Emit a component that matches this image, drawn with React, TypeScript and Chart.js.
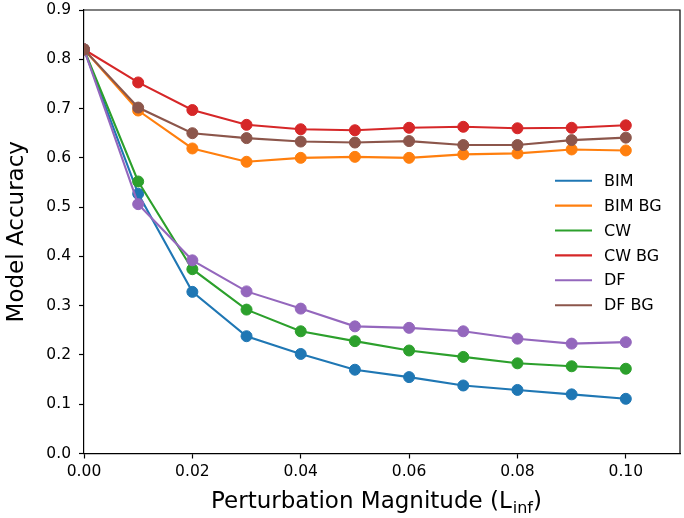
import React, { useEffect, useRef } from "react";
import { Chart, registerables } from "chart.js";

Chart.register(...registerables);

const xValues = [0, 0.01, 0.02, 0.03, 0.04, 0.05, 0.06, 0.07, 0.08, 0.09, 0.1];
const bim = [0.82, 0.527, 0.328, 0.238, 0.202, 0.17, 0.155, 0.138, 0.129, 0.12, 0.111];
const bimBg = [0.82, 0.696, 0.619, 0.592, 0.6, 0.602, 0.6, 0.607, 0.609, 0.617, 0.615];
const cw = [0.82, 0.552, 0.374, 0.292, 0.248, 0.228, 0.209, 0.196, 0.183, 0.177, 0.172];
const cwBg = [0.82, 0.753, 0.697, 0.667, 0.658, 0.656, 0.661, 0.663, 0.66, 0.661, 0.666];
const df = [0.82, 0.506, 0.392, 0.329, 0.294, 0.258, 0.255, 0.248, 0.233, 0.223, 0.226];
const dfBg = [0.82, 0.702, 0.65, 0.64, 0.633, 0.631, 0.634, 0.626, 0.626, 0.636, 0.641];

const seriesNames = ["BIM", "BIM BG", "CW", "CW BG", "DF", "DF BG"];
const seriesValues = [bim, bimBg, cw, cwBg, df, dfBg];
const seriesColors = ["#1f77b4", "#ff7f0e", "#2ca02c", "#d62728", "#9467bd", "#8c564b"];

const xTicks = [0, 0.02, 0.04, 0.06, 0.08, 0.1];
const yTicks = [0, 0.1, 0.2, 0.3, 0.4, 0.5, 0.6, 0.7, 0.8, 0.9];

const Y_TITLE = "Model Accuracy";
const X_TITLE_MAIN = "Perturbation Magnitude (L";
const X_TITLE_SUB = "inf";
const X_TITLE_END = ")";

const FONT = "'DejaVu Sans', 'Noto Sans', sans-serif";

const frameAndTitlePlugin = {
  id: "frameAndTitle",
  afterDraw(chart: any) {
    const { ctx, chartArea } = chart;
    ctx.save();
    // top & right spines
    ctx.strokeStyle = "#000";
    ctx.lineWidth = 1.2;
    ctx.beginPath();
    ctx.moveTo(chartArea.left, chartArea.top);
    ctx.lineTo(chartArea.right, chartArea.top);
    ctx.lineTo(chartArea.right, chartArea.bottom);
    ctx.stroke();

    // x axis title with subscript
    const main = `23px ${FONT}`;
    const sub = `16px ${FONT}`;
    ctx.font = main;
    const w1 = ctx.measureText(X_TITLE_MAIN).width;
    const w3 = ctx.measureText(X_TITLE_END).width;
    ctx.font = sub;
    const w2 = ctx.measureText(X_TITLE_SUB).width;
    const total = w1 + w2 + w3;
    let x = (chartArea.left + chartArea.right) / 2 - total / 2 - 6;
    const y = chartArea.bottom + 54.5;
    ctx.fillStyle = "#000";
    ctx.textAlign = "left";
    ctx.textBaseline = "alphabetic";
    ctx.font = main;
    ctx.fillText(X_TITLE_MAIN, x, y);
    x += w1;
    ctx.font = sub;
    ctx.fillText(X_TITLE_SUB, x + 1, y + 5);
    x += w2 + 1;
    ctx.font = main;
    ctx.fillText(X_TITLE_END, x, y);

    // legend (no frame, line handles)
    const lx0 = chartArea.right - 125;
    const lx1 = chartArea.right - 88;
    const tx = chartArea.right - 76;
    const ly0 = 180.7;
    const step = 24.9;
    ctx.font = `16px ${FONT}`;
    ctx.textBaseline = "middle";
    chart.data.datasets.forEach((ds: any, i: number) => {
      const yy = ly0 + step * i;
      ctx.strokeStyle = ds.borderColor;
      ctx.lineWidth = 2.1;
      ctx.beginPath();
      ctx.moveTo(lx0, yy);
      ctx.lineTo(lx1, yy);
      ctx.stroke();
      ctx.fillStyle = "#000";
      ctx.fillText(ds.label, tx, yy + 1);
    });
    ctx.restore();
  },
};

export default function App() {
  const canvasRef = useRef<HTMLCanvasElement | null>(null);

  useEffect(() => {
    document.body.style.margin = "0";
    const canvas = canvasRef.current;
    if (!canvas) return;
    const datasets = seriesNames.map((name, i) => ({
      label: name,
      data: xValues.map((xv, j) => ({ x: xv, y: seriesValues[i][j] })),
      borderColor: seriesColors[i],
      backgroundColor: seriesColors[i],
      pointBackgroundColor: seriesColors[i],
      pointBorderColor: seriesColors[i],
      pointRadius: 5.5,
      pointBorderWidth: 1,
      borderWidth: 2.1,
      tension: 0,
      fill: false,
      clip: 0,
      order: seriesNames.length - i,
    }));

    const chart = new Chart(canvas, {
      type: "line",
      data: { datasets },
      plugins: [frameAndTitlePlugin],
      options: {
        animation: false,
        responsive: false,
        devicePixelRatio: 1,
        layout: { autoPadding: false, padding: { left: 0, top: 10, right: 4, bottom: 0 } },
        plugins: {
          legend: { display: false },
          tooltip: { enabled: false },
        },
        scales: {
          x: {
            type: "linear",
            min: 0,
            max: 0.11,
            afterFit: (scale: any) => {
              scale.height = 64.5;
              scale.paddingLeft = 0;
              scale.paddingRight = 0;
            },
            afterBuildTicks: (scale: any) => {
              scale.ticks = xTicks.map((v) => ({ value: v }));
            },
            ticks: {
              color: "#000",
              font: { family: FONT, size: 15.5 },
              padding: 4,
              maxRotation: 0,
              autoSkip: false,
              callback: (v: any) => Number(v).toFixed(2),
            },
            grid: {
              drawOnChartArea: false,
              drawTicks: true,
              tickLength: 5,
              tickColor: "#000",
              tickWidth: 1.2,
            },
            border: { display: true, color: "#000", width: 1.2 },
          },
          y: {
            type: "linear",
            min: 0,
            max: 0.9,
            afterFit: (scale: any) => {
              scale.width = 84;
              scale.paddingTop = 0;
              scale.paddingBottom = 0;
            },
            afterBuildTicks: (scale: any) => {
              scale.ticks = yTicks.map((v) => ({ value: v }));
            },
            ticks: {
              color: "#000",
              font: { family: FONT, size: 15.5 },
              padding: 8,
              autoSkip: false,
              callback: (v: any) => Number(v).toFixed(1),
            },
            grid: {
              drawOnChartArea: false,
              drawTicks: true,
              tickLength: 5,
              tickColor: "#000",
              tickWidth: 1.2,
            },
            border: { display: true, color: "#000", width: 1.2 },
            title: {
              display: true,
              text: Y_TITLE,
              color: "#000",
              font: { family: FONT, size: 23, lineHeight: 1.2 },
              padding: { top: 3, bottom: 0 },
            },
          },
        },
      },
    });
    return () => chart.destroy();
  }, []);

  return (
    <div style={{ width: 684, height: 518, background: "#fff" }}>
      <canvas ref={canvasRef} width={684} height={518} style={{ display: "block" }} />
    </div>
  );
}
